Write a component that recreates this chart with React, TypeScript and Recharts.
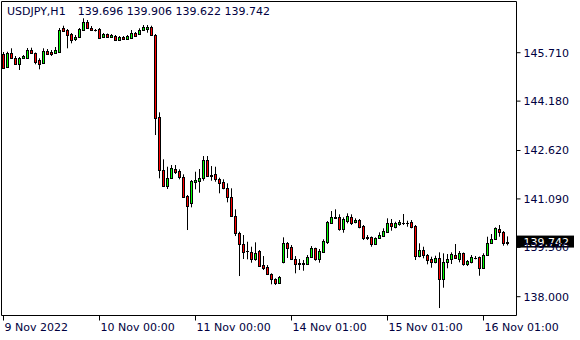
import React from 'react';
import { ComposedChart, Bar, XAxis, YAxis, ReferenceArea, ReferenceLine } from 'recharts';

// USDJPY H1, bar 0 = 9 Nov 2022 00:00
const opens = [
  145.659, 145.267, 145.691, 145.552, 145.343, 145.533, 145.552, 145.795, 145.691, 145.479,
  145.375, 145.763, 145.732, 145.691, 145.741, 146.481, 146.427, 146.291, 146.143, 146.215,
  146.427, 146.689, 146.5, 146.427, 146.459, 146.215, 146.301, 146.215, 146.237, 146.111,
  146.206, 146.143, 146.184, 146.323, 146.291, 146.427, 146.449, 146.531, 146.269, 143.668,
  142.012, 141.507, 141.741, 142.025, 141.971, 141.772, 141.181, 140.951, 141.633, 141.665,
  141.741, 142.319, 141.861, 141.867, 141.719, 141.633, 141.444, 141.14, 140.559, 140.012,
  139.665, 139.443, 139.412, 139.2, 139.453, 139.001, 138.928, 138.707, 138.549, 138.423,
  139.086, 139.687, 139.56, 139.191, 139.074, 139.055, 139.023, 139.263, 139.529, 139.191,
  139.421, 139.737, 140.319, 140.508, 140.508, 140.129, 140.401, 140.527, 140.35, 140.423,
  140.233, 139.876, 139.876, 139.655, 139.845, 139.927, 140.053, 140.319, 140.211, 140.297,
  140.338, 140.338, 140.36, 140.233, 139.295, 139.475, 139.317, 139.2, 139.086, 139.213,
  138.559, 139.105, 139.181, 139.317, 139.191, 139.371, 139.023, 139.105, 139.232, 139.244,
  138.916, 139.317, 139.687, 139.823, 140.129, 140.034, 139.696,
];
const highs = [
  145.732, 145.741, 145.849, 145.605, 145.574, 145.637, 145.858, 145.868, 145.716, 145.533,
  145.849, 145.827, 145.795, 145.89, 146.49, 146.563, 146.459, 146.332, 146.269, 146.49,
  146.797, 146.743, 146.553, 146.459, 146.49, 146.332, 146.316, 146.301, 146.269, 146.237,
  146.237, 146.269, 146.427, 146.364, 146.481, 146.585, 146.585, 146.563, 146.301, 143.826,
  142.341, 142.107, 142.161, 142.161, 142.025, 141.867, 141.213, 141.687, 141.949, 142.035,
  142.445, 142.445, 142.129, 142.107, 141.76, 141.709, 141.583, 141.425, 140.761, 140.053,
  139.949, 139.737, 139.579, 139.718, 139.475, 139.285, 139.001, 138.739, 138.581, 138.653,
  139.876, 139.728, 139.633, 139.285, 139.191, 139.159, 139.317, 139.601, 139.548, 139.507,
  139.813, 140.391, 140.707, 140.761, 140.603, 140.508, 140.635, 140.603, 140.477, 140.455,
  140.265, 139.949, 139.902, 139.876, 140.034, 140.161, 140.477, 140.455, 140.369, 140.423,
  140.613, 140.401, 140.423, 140.265, 139.687, 139.579, 139.349, 139.263, 139.295, 139.402,
  139.371, 139.349, 139.402, 139.665, 139.443, 139.396, 139.159, 139.317, 139.285, 139.27,
  139.371, 139.895, 139.981, 140.192, 140.265, 140.075, 139.906,
];
const lows = [
  145.195, 145.242, 145.533, 145.321, 145.163, 145.511, 145.542, 145.669, 145.343, 145.185,
  145.353, 145.637, 145.605, 145.669, 145.732, 146.364, 145.849, 146.007, 146.079, 146.19,
  146.395, 146.474, 146.395, 146.38, 146.158, 146.174, 146.19, 146.19, 146.079, 146.079,
  146.111, 146.111, 146.158, 146.206, 146.269, 146.395, 146.342, 146.237, 143.109, 141.741,
  141.475, 141.403, 141.719, 141.877, 141.709, 141.128, 140.107, 140.824, 141.393, 141.286,
  141.665, 141.798, 141.665, 141.633, 141.267, 141.393, 140.982, 140.518, 139.917, 138.653,
  139.191, 139.181, 139.074, 139.137, 138.954, 138.843, 138.685, 138.391, 138.369, 138.401,
  139.055, 139.222, 139.159, 138.739, 138.843, 138.821, 139.001, 139.254, 139.137, 139.074,
  139.412, 139.665, 140.297, 140.486, 140.085, 140.022, 140.319, 140.265, 140.319, 140.161,
  139.791, 139.791, 139.579, 139.633, 139.823, 139.917, 140.044, 140.085, 140.161, 140.243,
  140.265, 140.211, 140.161, 139.159, 139.244, 139.213, 139.023, 138.916, 139.055, 137.642,
  138.284, 138.897, 139.033, 139.191, 139.086, 138.979, 138.969, 139.055, 139.181, 138.663,
  138.89, 139.285, 139.665, 139.791, 139.895, 139.611, 139.622,
];
const closes = [
  145.236, 145.691, 145.552, 145.343, 145.533, 145.605, 145.795, 145.691, 145.425, 145.343,
  145.763, 145.659, 145.659, 145.795, 146.427, 146.395, 146.269, 146.111, 146.215, 146.459,
  146.67, 146.5, 146.427, 146.418, 146.184, 146.291, 146.215, 146.269, 146.111, 146.215,
  146.143, 146.237, 146.323, 146.247, 146.427, 146.531, 146.512, 146.26, 143.656, 142.012,
  141.507, 141.741, 142.057, 141.949, 141.772, 141.159, 140.875, 141.646, 141.687, 141.741,
  142.319, 141.823, 141.829, 141.709, 141.602, 141.444, 141.14, 140.559, 140.012, 139.655,
  139.421, 139.434, 139.2, 139.371, 138.979, 138.916, 138.707, 138.549, 138.423, 138.612,
  139.687, 139.548, 139.191, 139.023, 139.033, 139.048, 139.263, 139.529, 139.191, 139.443,
  139.759, 140.35, 140.508, 140.502, 140.129, 140.445, 140.549, 140.338, 140.423, 140.211,
  139.864, 139.87, 139.655, 139.845, 139.949, 140.075, 140.319, 140.243, 140.319, 140.36,
  140.344, 140.335, 140.211, 139.295, 139.475, 139.317, 139.159, 139.105, 139.213, 138.559,
  139.105, 139.181, 139.349, 139.232, 139.371, 139.033, 139.127, 139.244, 139.238, 138.916,
  139.317, 139.687, 139.823, 140.161, 140.034, 139.687, 139.742,
];

const timeTicks = [0, 24, 48, 72, 96, 120];
const timeLabels = ['9 Nov 2022', '10 Nov 00:00', '11 Nov 00:00', '14 Nov 01:00', '15 Nov 01:00', '16 Nov 01:00'];
const priceTicks = [138.0, 139.56, 141.09, 142.62, 144.18, 145.71];

const symbol = 'USDJPY,H1';
const lastOHLC = [139.696, 139.906, 139.622, 139.742];

const candles = opens.map((open, i) => ({
  i,
  open,
  high: highs[i],
  low: lows[i],
  close: closes[i],
  range: [lows[i], highs[i]],
}));

const TEXT = '#000040';
const FONT = 'DejaVu Sans';

function Candle(props: any) {
  const { x, y, width, height, payload } = props;
  const { open, close, high, low } = payload;
  const top = Math.min(y, y + height);
  const h = Math.abs(height);
  const k = high > low ? h / (high - low) : 0;
  const cx = Math.round(x + width / 2 - 0.5) + 0.5;
  const yOf = (v: number) => top + (high - v) * k;
  const bt = Math.round(yOf(Math.max(open, close)));
  const bb = Math.round(yOf(Math.min(open, close)));
  const bh = Math.max(1, bb - bt + 1);
  const up = close > open;
  return (
    <g>
      <line x1={cx} x2={cx} y1={top} y2={top + h} stroke="#000" strokeWidth={1} />
      <rect x={cx - 1.5} y={bt} width={3} height={bh} fill="#000" />
      {bh > 2 && (
        <rect x={cx - 0.5} y={bt + 1} width={1} height={bh - 2} fill={up ? '#00ff00' : '#ff0000'} />
      )}
    </g>
  );
}

function TimeTick(props: any) {
  const { x, y, payload } = props;
  const idx = timeTicks.indexOf(payload.value);
  return (
    <text x={x + 1} y={y} dy="0.71em" textAnchor="start" fontSize={11} fontFamily={FONT} fill={TEXT}>
      {timeLabels[idx]}
    </text>
  );
}

function PriceTag(props: any) {
  const vb = props.viewBox || {};
  const right = vb.x + vb.width;
  return (
    <g>
      <rect x={right + 0.5} y={vb.y - 6} width={57} height={12} fill="#000" />
      <text x={right + 7} y={vb.y} dy="0.36em" fontSize={11} fontFamily={FONT} fill="#fff">
        {lastOHLC[3].toFixed(3)}
      </text>
    </g>
  );
}

export default function App() {
  return (
    <div style={{ position: 'absolute', left: 0, top: 0, width: 580, height: 340, background: '#fff' }}>
      <ComposedChart
        width={580}
        height={340}
        data={candles}
        margin={{ top: 1.5, right: 0, bottom: 0, left: 1.5 }}
      >
        <XAxis
          dataKey="i"
          type="number"
          domain={[-0.5, 128.25]}
          allowDataOverflow
          ticks={timeTicks}
          interval={0}
          height={24.5}
          axisLine={false}
          tickLine={{ stroke: '#000' }}
          tickSize={5}
          tickMargin={3}
          tick={<TimeTick />}
        />
        <YAxis
          orientation="right"
          type="number"
          domain={[137.406, 147.328]}
          allowDataOverflow
          ticks={priceTicks}
          interval={0}
          width={63.5}
          axisLine={false}
          tickLine={{ stroke: '#000' }}
          tickSize={4}
          tickMargin={3}
          tickFormatter={(v: number) => v.toFixed(3)}
          tick={{ fontSize: 11, fontFamily: FONT, fill: TEXT }}
        />
        <Bar dataKey="range" barSize={3} shape={<Candle />} isAnimationActive={false} />
        <ReferenceArea
          x1={-0.5}
          x2={128.25}
          y1={137.406}
          y2={147.328}
          fill="none"
          stroke="#000"
          strokeOpacity={1}
          fillOpacity={0}
        />
        <ReferenceLine y={lastOHLC[3]} stroke="none" label={<PriceTag />} />
      </ComposedChart>
      <div
        style={{
          position: 'absolute',
          left: 7,
          top: 5,
          fontFamily: FONT,
          fontSize: 11,
          color: TEXT,
          whiteSpace: 'pre',
          lineHeight: '13px',
        }}
      >
        <span>{symbol}</span>
        <span style={{ marginLeft: 12 }}>{lastOHLC.map((v) => v.toFixed(3)).join(' ')}</span>
      </div>
    </div>
  );
}
